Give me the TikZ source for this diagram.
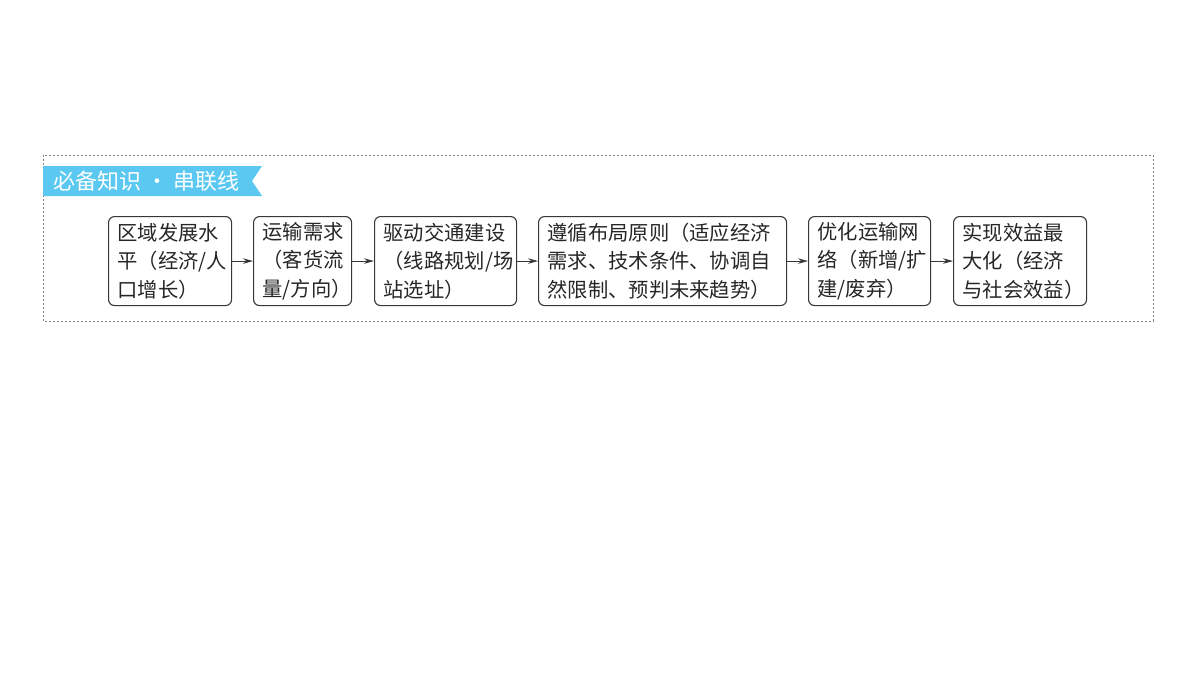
\documentclass[tikz,border=0pt]{standalone}
\usepackage{fontspec}
\setmainfont{Noto Sans CJK SC}
\usetikzlibrary{arrows.meta}
\definecolor{banner}{RGB}{90,200,240}
\definecolor{boxline}{RGB}{55,55,55}
\tikzset{
  flowbox/.style={draw=boxline, line width=1.1pt, rounded corners=6pt, anchor=north west,
    minimum height=89pt, inner xsep=9pt, inner ysep=0pt, align=left,
    font=\fontsize{20.3}{28.5}\selectfont, text=black!85},
  flowarrow/.style={draw=boxline, line width=0.9pt, -{Stealth[length=10pt,width=5.5pt]}},
}
\begin{document}
\begin{tikzpicture}[x=1pt,y=-1pt]
\useasboundingbox (0,0) rectangle (1200,675);
\draw[gray, line width=0.9pt, dash pattern=on 2pt off 2pt] (43,155) rectangle (1153,321);
\fill[banner] (43,166) -- (262,166) -- (252,181) -- (262,196) -- (43,196) -- cycle;
\node[anchor=west, text=white, font=\fontsize{22}{24}\selectfont] (title) at (50,181) {必备知识 · 串联线};
\node[flowbox, minimum width=123pt, text width=105pt] (b1) at (108,216) {区域发展水\\平（经济/人\\口增长）};
\node[flowbox, minimum width=98pt, text width=80pt] (b2) at (253,216) {运输需求\\（客货流\\量/方向）};
\node[flowbox, minimum width=142pt, text width=124pt] (b3) at (374,216) {驱动交通建设\\（线路规划/场\\站选址）};
\node[flowbox, minimum width=248pt, text width=230pt] (b4) at (538,216) {遵循布局原则（适应经济\\需求、技术条件、协调自\\然限制、预判未来趋势）};
\node[flowbox, minimum width=122pt, text width=104pt] (b5) at (808,216) {优化运输网\\络（新增/扩\\建/废弃）};
\node[flowbox, minimum width=133pt, text width=115pt] (b6) at (953,216) {实现效益最\\大化（经济\\与社会效益）};
\draw[flowarrow] (b1.east) -- (b2.west);
\draw[flowarrow] (b2.east) -- (b3.west);
\draw[flowarrow] (b3.east) -- (b4.west);
\draw[flowarrow] (b4.east) -- (b5.west);
\draw[flowarrow] (b5.east) -- (b6.west);
\end{tikzpicture}
\end{document}
